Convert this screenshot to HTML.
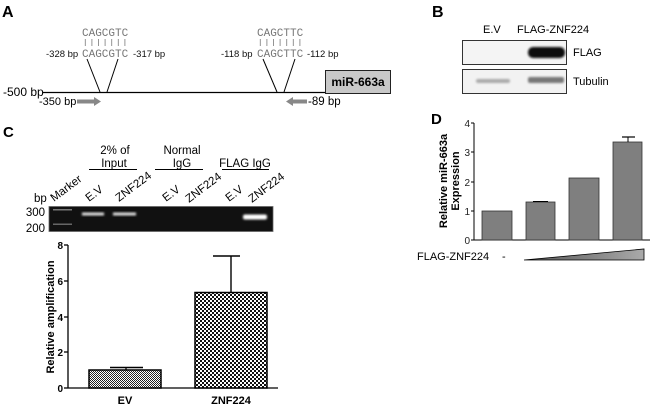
<!DOCTYPE html>
<html><head><meta charset="utf-8"><style>
html,body{margin:0;padding:0;background:#fff;}
svg{display:block;font-family:"Liberation Sans",Arial,sans-serif;}
</style></head><body>
<svg width="650" height="419" viewBox="0 0 650 419" xmlns="http://www.w3.org/2000/svg">
<defs>
<pattern id="fine" width="2" height="2" patternUnits="userSpaceOnUse">
<rect width="2" height="2" fill="#fff"/><rect x="0" y="0" width="1" height="1" fill="#222"/><rect x="1" y="1" width="1" height="1" fill="#222"/>
</pattern>
<pattern id="coarse" width="4" height="4" patternUnits="userSpaceOnUse">
<rect width="4" height="4" fill="#fff"/><rect x="0" y="0" width="2" height="2" fill="#111"/><rect x="2" y="2" width="2" height="2" fill="#111"/>
</pattern>
<filter id="bl" x="-20%" y="-50%" width="140%" height="200%"><feGaussianBlur stdDeviation="1"/></filter>
<linearGradient id="tri" x1="0" x2="1" y1="0" y2="0"><stop offset="0" stop-color="#555"/><stop offset="1" stop-color="#aaa"/></linearGradient>
</defs>

<!-- Panel A -->
<text x="2" y="17" font-size="16" font-weight="bold">A</text>
<line x1="43" y1="92.5" x2="326" y2="92.5" stroke="#000" stroke-width="1.3"/>
<rect x="325.5" y="70.5" width="65" height="23" fill="#c8c8c8" stroke="#222" stroke-width="1"/>
<text x="358" y="86" font-size="12" font-weight="bold" text-anchor="middle">miR-663a</text>
<text x="3" y="96" font-size="12">-500 bp</text>
<text x="39" y="105" font-size="11">-350 bp</text>
<polygon points="77,99.5 94,99.5 94,97 101,101.5 94,106 94,103.5 77,103.5" fill="#888"/>
<text x="308" y="105" font-size="11.5">-89 bp</text>
<polygon points="307,99.5 293,99.5 293,97 286,101.5 293,106 293,103.5 307,103.5" fill="#888"/>

<g font-family="'Liberation Mono',monospace" font-size="11" fill="#777">
<text x="82" y="36">CAGCGTC</text>
<text x="82" y="57">CAGCGTC</text>
<text x="257" y="36">CAGCTTC</text>
<text x="257" y="57">CAGCTTC</text>
</g>
<g stroke="#888" stroke-width="0.9">
<line x1="85.3" y1="39" x2="85.3" y2="46"/><line x1="91.9" y1="39" x2="91.9" y2="46"/><line x1="98.5" y1="39" x2="98.5" y2="46"/><line x1="105.1" y1="39" x2="105.1" y2="46"/><line x1="111.7" y1="39" x2="111.7" y2="46"/><line x1="118.3" y1="39" x2="118.3" y2="46"/><line x1="124.9" y1="39" x2="124.9" y2="46"/>
<line x1="260.3" y1="39" x2="260.3" y2="46"/><line x1="266.9" y1="39" x2="266.9" y2="46"/><line x1="273.5" y1="39" x2="273.5" y2="46"/><line x1="280.1" y1="39" x2="280.1" y2="46"/><line x1="286.7" y1="39" x2="286.7" y2="46"/><line x1="293.3" y1="39" x2="293.3" y2="46"/><line x1="299.9" y1="39" x2="299.9" y2="46"/>
</g>
<g font-size="9.5" fill="#111">
<text x="46" y="57">-328 bp</text>
<text x="133" y="57">-317 bp</text>
<text x="221" y="57">-118 bp</text>
<text x="307" y="57">-112 bp</text>
</g>
<g stroke="#000" stroke-width="1">
<line x1="87" y1="59" x2="100" y2="92"/><line x1="118" y1="59" x2="107" y2="92"/>
<line x1="263" y1="59" x2="277" y2="92"/><line x1="295" y1="59" x2="284" y2="92"/>
</g>

<!-- Panel B -->
<text x="432" y="17" font-size="16" font-weight="bold">B</text>
<text x="483" y="33" font-size="11">E.V</text>
<text x="517" y="33" font-size="11">FLAG-ZNF224</text>
<rect x="462.5" y="40.5" width="104" height="24" fill="#f4f4f4" stroke="#333" stroke-width="1"/>
<rect x="462.5" y="69.5" width="104" height="24" fill="#f2f2f2" stroke="#333" stroke-width="1"/>
<rect x="528" y="47" width="37" height="11" rx="5" fill="#111" filter="url(#bl)"/>
<rect x="476" y="79" width="34" height="4" rx="2" fill="#aaa" filter="url(#bl)"/>
<rect x="528" y="77" width="36" height="6" rx="2" fill="#777" filter="url(#bl)"/>
<text x="573" y="56" font-size="11">FLAG</text>
<text x="573" y="85" font-size="11">Tubulin</text>

<!-- Panel C -->
<text x="3" y="137" font-size="15" font-weight="bold">C</text>
<g font-size="11.5" text-anchor="middle">
<text x="115" y="154">2% of</text>
<text x="114" y="167">Input</text>
<text x="182" y="154">Normal</text>
<text x="182" y="167">IgG</text>
<text x="245" y="167">FLAG IgG</text>
</g>
<g stroke="#000" stroke-width="0.9">
<line x1="89" y1="169.5" x2="137" y2="169.5"/>
<line x1="155" y1="169.5" x2="203" y2="169.5"/>
<line x1="222" y1="169.5" x2="269" y2="169.5"/>
</g>
<text x="34" y="202" font-size="11.5">bp</text>
<g font-size="11.5">
<text transform="translate(54,202) rotate(-37)">Marker</text>
<text transform="translate(89,202) rotate(-37)">E.V</text>
<text transform="translate(119,202) rotate(-37)">ZNF224</text>
<text transform="translate(166,202) rotate(-37)">E.V</text>
<text transform="translate(189,203) rotate(-37)">ZNF224</text>
<text transform="translate(229,202) rotate(-37)">E.V</text>
<text transform="translate(252,203) rotate(-37)">ZNF224</text>
</g>
<text x="45" y="216" font-size="11.5" text-anchor="end">300</text>
<text x="45" y="232" font-size="11.5" text-anchor="end">200</text>
<rect x="49" y="206.5" width="224" height="25" fill="#111" stroke="#666" stroke-width="0.8"/>
<rect x="53" y="209" width="19" height="1.5" fill="#777"/>
<rect x="53" y="223.5" width="19" height="1.5" fill="#666"/>
<rect x="82" y="212.5" width="22" height="3" fill="#ddd" filter="url(#bl)"/>
<rect x="113" y="212.5" width="23" height="3" fill="#ddd" filter="url(#bl)"/>
<rect x="243" y="214.5" width="24" height="5" rx="2" fill="#fff" filter="url(#bl)"/>

<!-- C chart -->
<g stroke="#000" stroke-width="1.3">
<line x1="68" y1="245" x2="68" y2="388"/>
<line x1="68" y1="388" x2="278" y2="388"/>
<line x1="64" y1="245" x2="68" y2="245"/>
<line x1="64" y1="281" x2="68" y2="281"/>
<line x1="64" y1="317" x2="68" y2="317"/>
<line x1="64" y1="352" x2="68" y2="352"/>
<line x1="64" y1="388" x2="68" y2="388"/>
</g>
<g font-size="10" font-weight="bold" text-anchor="end">
<text x="63" y="249">8</text>
<text x="63" y="285">6</text>
<text x="63" y="321">4</text>
<text x="63" y="356">2</text>
<text x="63" y="392">0</text>
</g>
<text transform="translate(54,317) rotate(-90)" font-size="11" font-weight="bold" text-anchor="middle">Relative amplification</text>
<rect x="89" y="370" width="72" height="18" fill="url(#fine)" stroke="#000" stroke-width="1.5"/>
<line x1="126" y1="370" x2="126" y2="367.5" stroke="#000" stroke-width="1.3"/>
<line x1="110" y1="367.5" x2="143" y2="367.5" stroke="#000" stroke-width="1.6"/>
<rect x="195" y="292.5" width="72" height="95.5" fill="url(#coarse)" stroke="#000" stroke-width="1.5"/>
<line x1="231" y1="292" x2="231" y2="256" stroke="#000" stroke-width="1.4"/>
<line x1="213" y1="256" x2="240" y2="256" stroke="#000" stroke-width="1.6"/>
<text x="125" y="404" font-size="11" font-weight="bold" text-anchor="middle">EV</text>
<text x="231" y="404" font-size="11" font-weight="bold" text-anchor="middle">ZNF224</text>

<!-- Panel D -->
<text x="431" y="124" font-size="15" font-weight="bold">D</text>
<g stroke="#000" stroke-width="1">
<line x1="474" y1="123" x2="474" y2="240"/>
<line x1="474" y1="240" x2="650" y2="240"/>
<line x1="471" y1="123" x2="474" y2="123"/>
<line x1="471" y1="152" x2="474" y2="152"/>
<line x1="471" y1="182" x2="474" y2="182"/>
<line x1="471" y1="211" x2="474" y2="211"/>
<line x1="471" y1="240" x2="474" y2="240"/>
</g>
<g font-size="10" text-anchor="end" fill="#222">
<text x="470" y="127">4</text>
<text x="470" y="156">3</text>
<text x="470" y="186">2</text>
<text x="470" y="215">1</text>
<text x="470" y="244">0</text>
</g>
<text transform="translate(447,181) rotate(-90)" font-size="11" font-weight="bold" text-anchor="middle">Relative miR-663a</text>
<text transform="translate(459,181) rotate(-90)" font-size="11" font-weight="bold" text-anchor="middle">Expression</text>
<g fill="#7f7f7f" stroke="#333" stroke-width="0.8">
<rect x="482" y="211" width="30" height="29"/>
<rect x="526" y="202" width="29" height="38"/>
<rect x="569" y="178" width="30" height="62"/>
<rect x="613" y="142" width="29" height="98"/>
</g>
<line x1="533" y1="201.5" x2="548" y2="201.5" stroke="#000" stroke-width="1"/>
<line x1="628" y1="142" x2="628" y2="137" stroke="#000" stroke-width="1"/>
<line x1="622" y1="137" x2="635" y2="137" stroke="#000" stroke-width="1.2"/>
<text x="417" y="260" font-size="11">FLAG-ZNF224</text>
<text x="502" y="260" font-size="11">-</text>
<polygon points="524,260 644,249 644,260" fill="url(#tri)" stroke="#000" stroke-width="0.8"/>
</svg>
</body></html>
